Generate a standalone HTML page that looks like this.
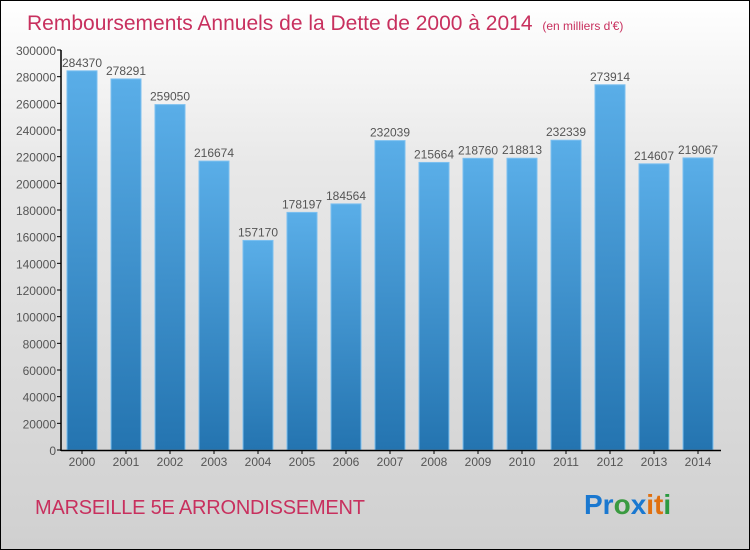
<!DOCTYPE html>
<html><head><meta charset="utf-8"><style>
body{margin:0}
#c{width:750px;height:550px;position:relative;box-sizing:border-box;border:1px solid #000;background:linear-gradient(#ffffff,#e8e8e8 30%,#d0d0d0);font-family:"Liberation Sans",sans-serif;overflow:hidden}
</style></head><body>
<div id="c">
<svg id="s" width="750" height="550" style="position:absolute;left:-1px;top:-1px">
<defs><linearGradient id="g" x1="0" y1="0" x2="0" y2="1"><stop offset="0" stop-color="#5aaee8"/><stop offset="1" stop-color="#2474b0"/></linearGradient></defs>
<text x="27" y="30" font-size="21" fill="#c8305e">Remboursements Annuels de la Dette de 2000 à 2014 <tspan font-size="12" dx="4">(en milliers d'€)</tspan></text>
<text x="35" y="514" font-size="20" fill="#c8305e" textLength="330">MARSEILLE 5E  ARRONDISSEMENT</text>
<text x="584" y="514" font-size="28" font-weight="bold"><tspan fill="#1a78d0">Pr</tspan><tspan fill="#3a9a40">o</tspan><tspan fill="#1a78d0">x</tspan><tspan fill="#e07010">i</tspan><tspan fill="#e07010">t</tspan><tspan fill="#2a9a40">i</tspan></text>
<g id="plot"></g>
</svg>
</div>
<script>
const years=["2000","2001","2002","2003","2004","2005","2006","2007","2008","2009","2010","2011","2012","2013","2014"];
const values=[284370,278291,259050,216674,157170,178197,184564,232039,215664,218760,218813,232339,273914,214607,219067];
const ticks=[0,20000,40000,60000,80000,100000,120000,140000,160000,180000,200000,220000,240000,260000,280000,300000];
const NS="http://www.w3.org/2000/svg",p=document.getElementById('plot');
const y=v=>450-v*400/300000, x=i=>82+44*i;
function mk(t,a,txt){const e=document.createElementNS(NS,t);for(const k in a)e.setAttribute(k,a[k]);if(txt!==undefined)e.textContent=txt;p.appendChild(e);return e;}
ticks.forEach(t=>{
const l=mk('line',{x1:57,x2:61,y1:y(t),y2:y(t),stroke:'#000'});


const tx=mk('text',{x:56,y:y(t)+5,'text-anchor':'end','font-size':12,fill:'#555'},String(t));


});
values.forEach((v,i)=>{
const r=mk('rect',{x:x(i)-15,y:y(v),width:30,height:450-y(v),fill:'url(#g)',stroke:'#7cc0f0','stroke-width':1});


const t=mk('text',{x:x(i),y:y(v)-4,'text-anchor':'middle','font-size':12,fill:'#555'},String(v));


const xl=mk('text',{x:x(i),y:466,'text-anchor':'middle','font-size':12,fill:'#555'},years[i]);


const xt=mk('line',{x1:x(i),x2:x(i),y1:450,y2:454,stroke:'#000'});


});
const ya=mk('line',{x1:61,x2:61,y1:50,y2:451,stroke:'#000','stroke-width':1.5});


const xa=mk('line',{x1:61,x2:721,y1:450.5,y2:450.5,stroke:'#000','stroke-width':1.5});


</script>
</body></html>
